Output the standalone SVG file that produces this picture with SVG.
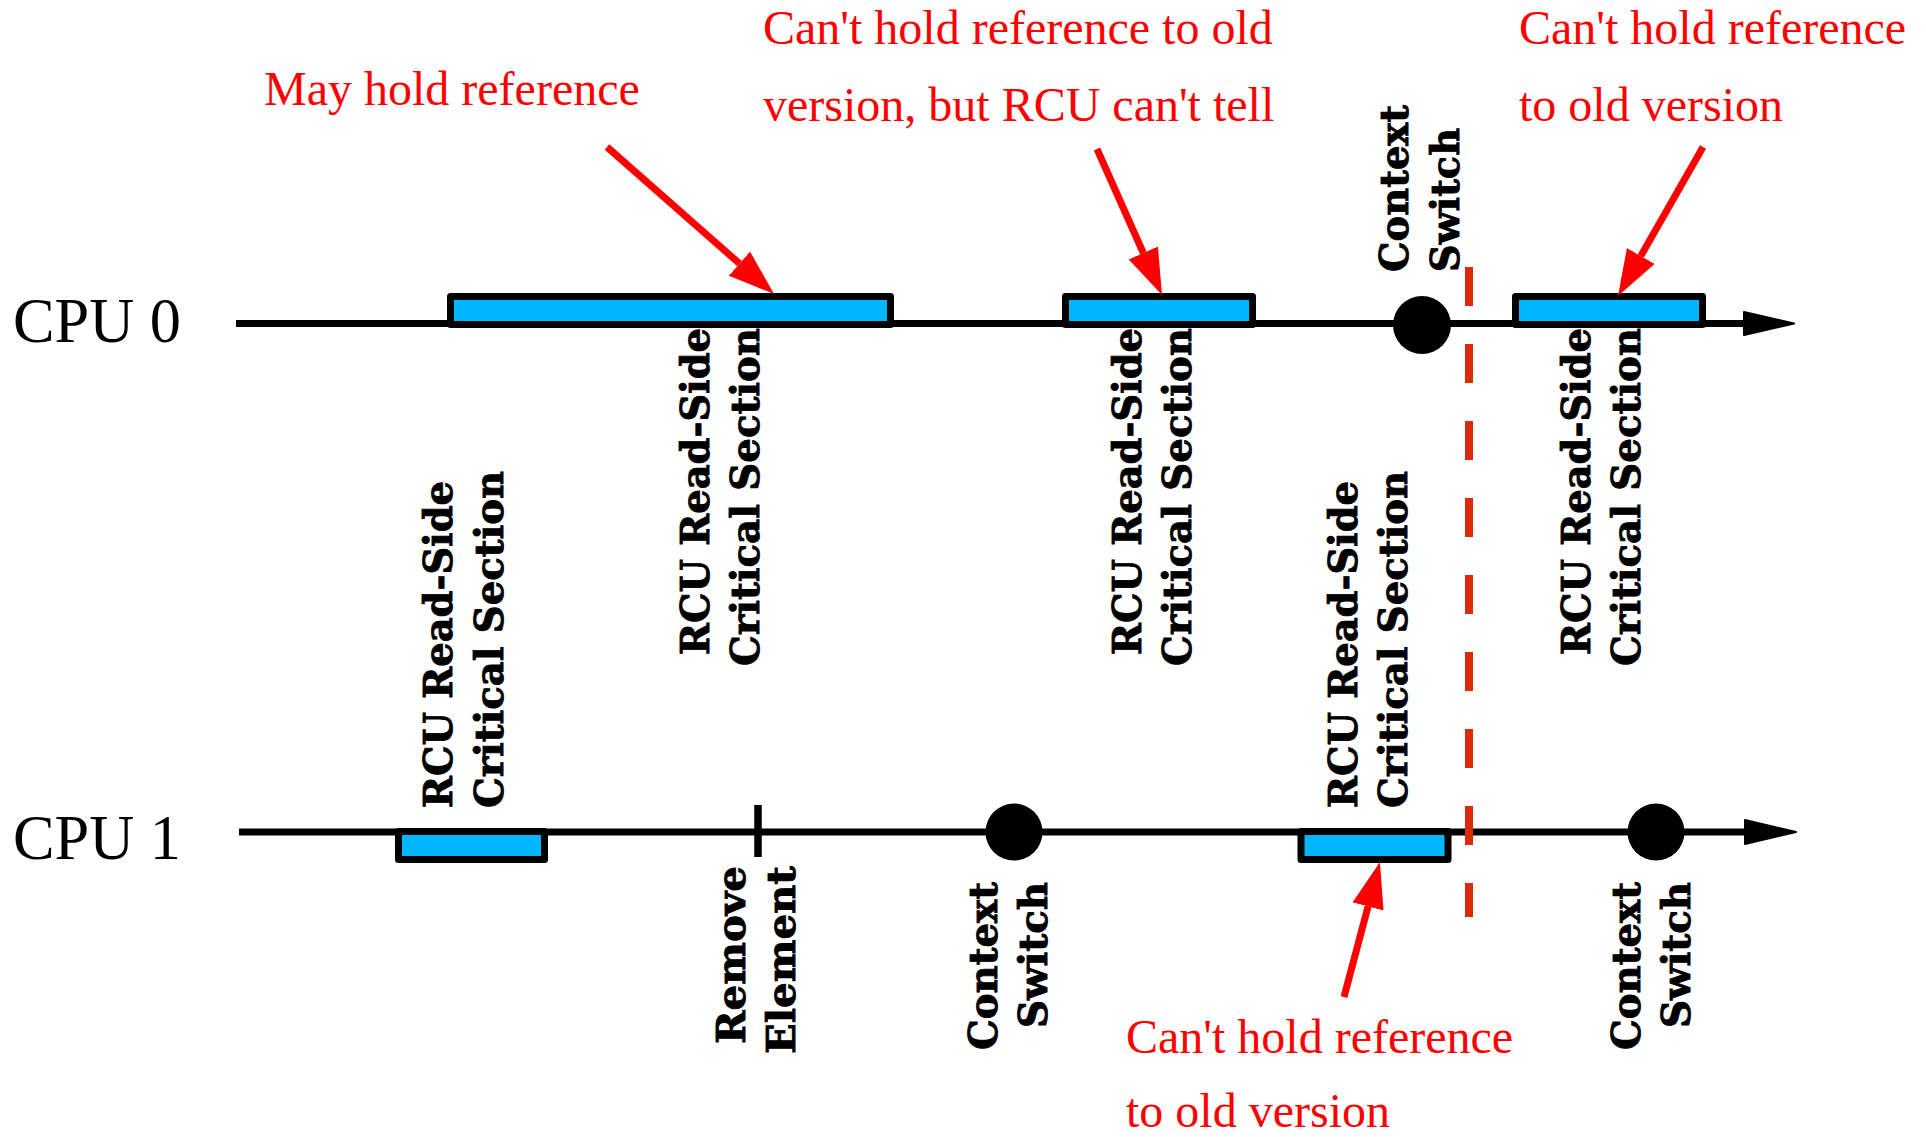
<svg xmlns="http://www.w3.org/2000/svg" width="1926" height="1137" viewBox="0 0 1926 1137">
<style>
.cpu{font-family:"Liberation Serif","Times New Roman",serif;font-size:63px;fill:#000}
.note{font-family:"Liberation Serif","Times New Roman",serif;font-size:48px;fill:#ff0000}
.lbl{font-family:"DejaVu Serif",serif;font-weight:bold;font-size:40px;fill:#000;stroke:#000;stroke-width:0.9}
.axis{stroke:#000;stroke-width:7;fill:none}
.cs{fill:#00b7ff;stroke:#000;stroke-width:7;stroke-linejoin:round}
.ev{fill:#000}
.ptr{stroke:#ff0000;stroke-width:7;fill:none}
.gp{stroke:#dc2a0a;stroke-width:8;stroke-dasharray:39 38;fill:none}
</style>
<defs>
<marker id="redhead" markerUnits="userSpaceOnUse" viewBox="0 -16 46 32" refX="0" refY="0" markerWidth="46" markerHeight="32" orient="auto">
<path d="M0,-16 L46,0 L0,16 z" fill="#ff0000"/>
</marker>
</defs>
<rect width="1926" height="1137" fill="#fff"/>

<g id="cpu0">
<text class="cpu" x="13" y="342" textLength="168" lengthAdjust="spacingAndGlyphs">CPU 0</text>
<line class="axis" x1="236" y1="323.5" x2="1760" y2="323.5"/>
<path d="M1744,312 L1794,323.5 L1744,335 z" fill="#000" stroke="#000" stroke-width="2" stroke-linejoin="round"/>
</g>
<g id="cpu1">
<text class="cpu" x="13" y="859" textLength="168" lengthAdjust="spacingAndGlyphs">CPU 1</text>
<line class="axis" x1="239" y1="832" x2="1760" y2="832"/>
<path d="M1745,820 L1796,832 L1745,844 z" fill="#000" stroke="#000" stroke-width="2" stroke-linejoin="round"/>
</g>

<g id="cs0a"><rect class="cs" x="450.5" y="296.5" width="440" height="28"/></g>
<g id="cs0b"><rect class="cs" x="1065.5" y="296.5" width="187" height="28"/></g>
<g id="cs0c"><rect class="cs" x="1515.5" y="296.5" width="187" height="28"/></g>
<g id="cs1a"><rect class="cs" x="398.5" y="831.5" width="146" height="28"/></g>
<g id="cs1b"><rect class="cs" x="1301" y="831.5" width="147" height="28"/></g>

<g id="ctx0"><circle class="ev" cx="1422" cy="325" r="29"/></g>
<g id="ctx1a"><circle class="ev" cx="1014" cy="832" r="28.5"/></g>
<g id="ctx1b"><circle class="ev" cx="1656" cy="832" r="28.5"/></g>
<g id="remove"><line x1="758" y1="805" x2="758" y2="857" stroke="#000" stroke-width="7.5"/></g>

<g id="grace"><line class="gp" x1="1469" y1="267" x2="1469" y2="917"/></g>

<g id="labels">
<text class="lbl" transform="translate(452,808) rotate(-90)" textLength="327" lengthAdjust="spacingAndGlyphs">RCU Read-Side</text>
<text class="lbl" transform="translate(503,808) rotate(-90)" textLength="337" lengthAdjust="spacingAndGlyphs">Critical Section</text>
<text class="lbl" text-anchor="end" transform="translate(709,328) rotate(-90)" textLength="327" lengthAdjust="spacingAndGlyphs">RCU Read-Side</text>
<text class="lbl" text-anchor="end" transform="translate(759,328) rotate(-90)" textLength="338" lengthAdjust="spacingAndGlyphs">Critical Section</text>
<text class="lbl" text-anchor="end" transform="translate(1141,328) rotate(-90)" textLength="327" lengthAdjust="spacingAndGlyphs">RCU Read-Side</text>
<text class="lbl" text-anchor="end" transform="translate(1191,328) rotate(-90)" textLength="338" lengthAdjust="spacingAndGlyphs">Critical Section</text>
<text class="lbl" transform="translate(1357,808) rotate(-90)" textLength="327" lengthAdjust="spacingAndGlyphs">RCU Read-Side</text>
<text class="lbl" transform="translate(1407,808) rotate(-90)" textLength="337" lengthAdjust="spacingAndGlyphs">Critical Section</text>
<text class="lbl" text-anchor="end" transform="translate(1590,328) rotate(-90)" textLength="327" lengthAdjust="spacingAndGlyphs">RCU Read-Side</text>
<text class="lbl" text-anchor="end" transform="translate(1640,328) rotate(-90)" textLength="338" lengthAdjust="spacingAndGlyphs">Critical Section</text>
<text class="lbl" transform="translate(1408,272) rotate(-90)" textLength="167" lengthAdjust="spacingAndGlyphs">Context</text>
<text class="lbl" transform="translate(1459,272) rotate(-90)" textLength="144" lengthAdjust="spacingAndGlyphs">Switch</text>
<text class="lbl" text-anchor="end" transform="translate(745,866) rotate(-90)" textLength="178" lengthAdjust="spacingAndGlyphs">Remove</text>
<text class="lbl" text-anchor="end" transform="translate(795,866) rotate(-90)" textLength="188" lengthAdjust="spacingAndGlyphs">Element</text>
<text class="lbl" text-anchor="end" transform="translate(997,882) rotate(-90)" textLength="168" lengthAdjust="spacingAndGlyphs">Context</text>
<text class="lbl" text-anchor="end" transform="translate(1047,882) rotate(-90)" textLength="146" lengthAdjust="spacingAndGlyphs">Switch</text>
<text class="lbl" text-anchor="end" transform="translate(1640,882) rotate(-90)" textLength="168" lengthAdjust="spacingAndGlyphs">Context</text>
<text class="lbl" text-anchor="end" transform="translate(1690,882) rotate(-90)" textLength="146" lengthAdjust="spacingAndGlyphs">Switch</text>
</g>

<g id="notes">
<text class="note" x="264" y="105">May hold reference</text>
<text class="note" x="763" y="44">Can't hold reference to old</text>
<text class="note" x="763" y="121">version, but RCU can't tell</text>
<text class="note" x="1519" y="44">Can't hold reference</text>
<text class="note" x="1519" y="121">to old version</text>
<text class="note" x="1126" y="1053">Can't hold reference</text>
<text class="note" x="1126" y="1127">to old version</text>
</g>

<g id="connectors">
<line class="ptr" x1="607" y1="147" x2="739.5" y2="263.6" marker-end="url(#redhead)"/>
<line class="ptr" x1="1097" y1="149" x2="1143.3" y2="253" marker-end="url(#redhead)"/>
<line class="ptr" x1="1703" y1="147" x2="1640.8" y2="256" marker-end="url(#redhead)"/>
<line class="ptr" x1="1344" y1="997" x2="1368.1" y2="906.4" marker-end="url(#redhead)"/>
</g>
</svg>
